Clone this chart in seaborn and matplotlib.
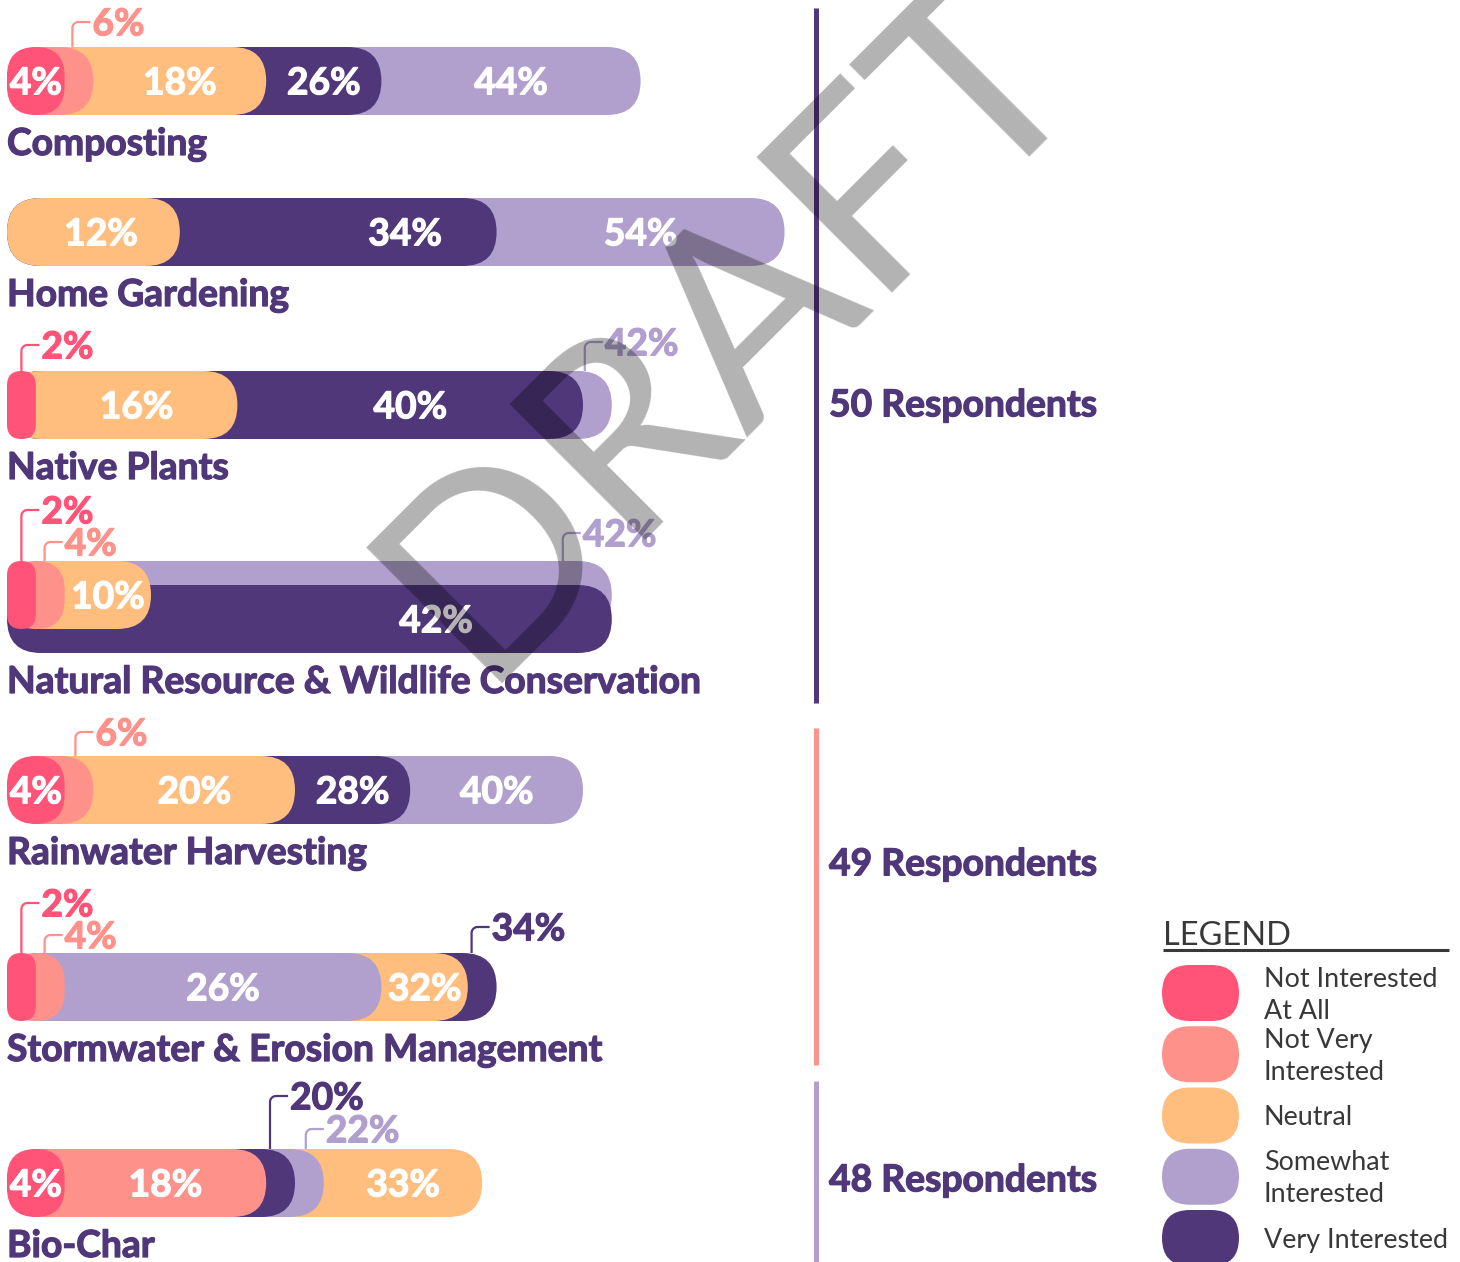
import numpy as np
import matplotlib
matplotlib.use("Agg")
import matplotlib.pyplot as plt
import matplotlib.patheffects as pe
from matplotlib.patches import FancyBboxPatch, Rectangle
import seaborn as sns

sns.set_theme(style="white")
plt.rcParams["font.family"] = ["Lato", "DejaVu Sans"]

# ---------------------------------------------------------------- data
topics = [
    "Composting",
    "Home Gardening",
    "Native Plants",
    "Natural Resource & Wildlife Conservation",
    "Rainwater Harvesting",
    "Stormwater & Erosion Management",
    "Bio-Char",
]
levels = [
    "Not Interested At All",
    "Not Very Interested",
    "Neutral",
    "Somewhat Interested",
    "Very Interested",
]
legend_text = ["Not Interested\nAt All", "Not Very\nInterested", "Neutral",
               "Somewhat\nInterested", "Very Interested"]

not_at_all = [4, 0, 2, 2, 4, 2, 4]
not_very = [6, 0, 0, 4, 6, 4, 18]
neutral = [18, 12, 16, 10, 20, 32, 33]
somewhat = [44, 54, 42, 42, 40, 26, 22]
very = [26, 34, 40, 42, 28, 34, 20]

respondents = [50, 49, 48]
topics_per_group = [4, 2, 1]

# ---------------------------------------------------------------- style
colors = {
    "Not Interested At All": "#FF5377",
    "Not Very Interested": "#FF918B",
    "Neutral": "#FFBE7D",
    "Somewhat Interested": "#B1A0CD",
    "Very Interested": "#4F377A",
}
INK = "#4F377A"
GREY = "#383838"
group_colors = ["#4F377A", "#FF918B", "#B1A0CD"]

W, H = 1460, 1262
PX_PER_PCT = 14.4          # horizontal pixels per percentage point
X_ORIGIN = 7               # left edge of every bar (px)
BAR_H = 68
TIE_DROP = 24              # equal values: the later bar is dropped below
row_y = [81, 232, 405, 595, 790, 987, 1183]

BOLD = 26.8                # pt
CAP = 0.7165 * BOLD * 100 / 72   # cap height in px


def heavy(color):
    """Bold text with a thin same-colour outline for a denser stroke."""
    return dict(fontsize=BOLD, fontweight="bold", color=color,
                path_effects=[pe.withStroke(linewidth=0.9, foreground=color)])


# labels written above the bar with a bracket: (level, rise px, inset px)
outside = {
    0: [("Not Very Interested", 25, 21)],
    2: [("Not Interested At All", 26, None), ("Somewhat Interested", 29, 27)],
    3: [("Not Interested At All", 51, None), ("Not Very Interested", 19, 20),
        ("Somewhat Interested", 28, 49)],
    4: [("Not Very Interested", 24, 18)],
    5: [("Not Interested At All", 50, None), ("Not Very Interested", 18, 20),
        ("Very Interested", 26, 25)],
    6: [("Very Interested", 53, 25), ("Somewhat Interested", 20, 18)],
}
inside_x_px = {(1, "Neutral"): 101, (1, "Very Interested"): 405,
               (3, "Very Interested"): 436}

group_spans = [(8, 703), (728, 1065), (1081, 1262)]
group_text_y = [403, 862, 1178]


def px2pct(px):
    return (px - X_ORIGIN) / PX_PER_PCT


def pct2px(p):
    return X_ORIGIN + p * PX_PER_PCT


fig = plt.figure(figsize=(W / 100, H / 100), dpi=100)
ax = fig.add_axes([0, 0, 1, 1])
ax.set_facecolor("white")

by_level = dict(zip(levels, [not_at_all, not_very, neutral, somewhat, very]))

# ---------------------------------------------------------------- bars
row_info = []
for i, topic in enumerate(topics):
    vals = [(lvl, by_level[lvl][i]) for lvl in levels if by_level[lvl][i] > 0]
    order = sorted(vals, key=lambda t: -t[1])      # largest at the back
    info = []
    for k, (lvl, v) in enumerate(order):
        shift = TIE_DROP if k > 0 and v == order[k - 1][1] else 0
        yc = row_y[i] + shift
        sns.barplot(x=[v], y=[yc], orient="h", native_scale=True,
                    color=colors[lvl], saturation=1, width=BAR_H,
                    errorbar=None, ax=ax)
        front = order[k + 1][1] if k + 1 < len(order) else 0
        info.append(dict(level=lvl, value=v, yc=yc, front=front))
    row_info.append(info)

# turn the plain rectangles into pill shapes
rects = [p for p in ax.patches if isinstance(p, Rectangle)]
for p in rects:
    x, y, w, h = p.get_x(), p.get_y(), p.get_width(), p.get_height()
    fc = p.get_facecolor()
    p.remove()
    rs = min(BAR_H / 2 / PX_PER_PCT, w / 2)
    ax.add_patch(FancyBboxPatch(
        (x, y), w, h, boxstyle=f"round,pad=0,rounding_size={rs}",
        mutation_aspect=PX_PER_PCT, facecolor=fc, edgecolor="none",
        linewidth=0))

ax.set_xlim(px2pct(0), px2pct(W))
ax.set_ylim(H, 0)
ax.axis("off")

# ---------------------------------------------------------------- labels
def bracket(x_px, y_from, y_lab, color, reach=18, r=6):
    t = np.linspace(np.pi, 1.5 * np.pi, 10)
    xs = [x_px, x_px] + list(x_px + r + r * np.cos(t)) + [x_px + reach]
    ys = [y_from, y_lab + r] + list(y_lab + r + r * np.sin(t)) + [y_lab]
    ax.plot([px2pct(v) for v in xs], ys, color=color, lw=1.6,
            solid_capstyle="butt", solid_joinstyle="round", zorder=3)


for i, info in enumerate(row_info):
    out_levels = {o[0]: o for o in outside.get(i, [])}
    bar_top = row_y[i] - BAR_H / 2
    for b in info:
        lvl, v = b["level"], b["value"]
        label = f"{v}%"
        if lvl in out_levels:
            _, rise, inset = out_levels[lvl]
            half = v * PX_PER_PCT / 2
            inset = half if inset is None else min(inset, half)
            lx = pct2px(v) - inset
            ly = bar_top - rise
            bracket(lx, bar_top, ly, colors[lvl])
            ax.text(px2pct(lx + 20), ly + CAP / 2, label, ha="left",
                    va="baseline", zorder=4, **heavy(colors[lvl]))
        else:
            if (i, lvl) in inside_x_px:
                xm = px2pct(inside_x_px[(i, lvl)])
            else:
                xm = (b["front"] + v) / 2
            ax.text(xm, b["yc"] + CAP / 2, label, ha="center",
                    va="baseline", zorder=4, **heavy("white"))
    bottom = max(b["yc"] for b in info) + BAR_H / 2
    ax.text(px2pct(7), bottom + 40, topics[i], ha="left", va="baseline",
            **heavy(INK))

# ---------------------------------------------------------------- side notes
deco = fig.add_axes([0, 0, 1, 1], zorder=5)
deco.set_facecolor("none")
deco.set_xlim(0, W)
deco.set_ylim(H, 0)
deco.axis("off")

for n, (y0, y1), c, ty in zip(respondents, group_spans, group_colors,
                              group_text_y):
    deco.plot([815.5, 815.5], [y0, y1], color=c, lw=3.6,
              solid_capstyle="butt")
    deco.text(829, ty + CAP / 2, f"{n} Respondents", ha="left",
              va="baseline", **heavy(INK))

# legend
deco.text(1163, 945, "LEGEND", color=GREY, fontsize=23.4, ha="left",
          va="baseline")
deco.plot([1163, 1449], [950, 950], color=GREY, lw=2.2,
          solid_capstyle="butt")
LEG = 19.4
leg_cap = 0.7165 * LEG * 100 / 72
for k, (lvl, txt) in enumerate(zip(levels, legend_text)):
    cy = 993 + k * 61.25
    deco.add_patch(FancyBboxPatch((1162, cy - 28), 77, 56,
                                  boxstyle="round,pad=0,rounding_size=28",
                                  facecolor=colors[lvl], edgecolor="none"))
    lines = txt.split("\n")
    offs = [0] if len(lines) == 1 else [-16, 16]
    for line, o in zip(lines, offs):
        deco.text(1264, cy + o + leg_cap / 2, line, color=GREY, fontsize=LEG,
                  ha="left", va="baseline")

# watermark
deco.text(478, 684, "DRAFT", rotation=45, rotation_mode="anchor",
          ha="left", va="baseline", fontsize=193, color="black", alpha=0.3,
          zorder=10)

fig.savefig("out.png", dpi=100, facecolor="white")
